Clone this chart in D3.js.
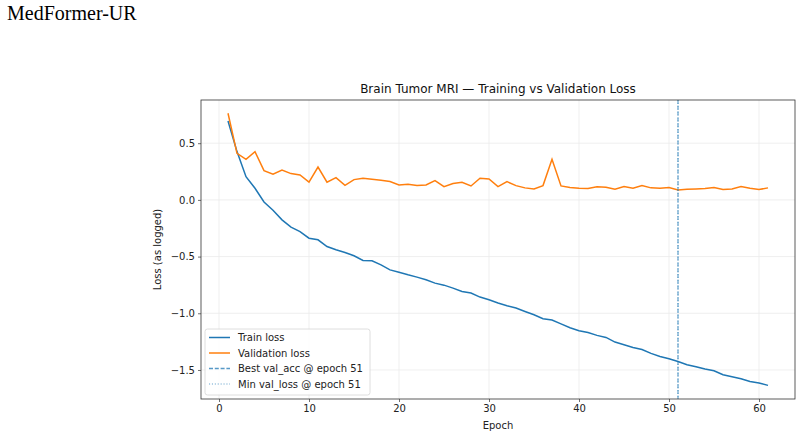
<!DOCTYPE html>
<html>
<head>
<meta charset="utf-8">
<script src="https://cdn.jsdelivr.net/npm/d3@7"></script>
<style>
  body { margin: 0; background: #fff; }
  #page-title { position: absolute; left: 7px; top: 2px; margin: 0; font-family: "Liberation Serif", "Times New Roman", serif; font-size: 20px; font-weight: normal; color: #000; }
  svg { position: absolute; left: 0; top: 0; }
</style>
</head>
<body>
<div id="page-title">MedFormer-UR</div>
<script>
        var w = 803;
        var h = 439;

        // values
        var epochs = d3.range(1, 62);
        var trainLoss = [0.696, 0.426, 0.205, 0.103, -0.018, -0.092, -0.176, -0.24, -0.279, -0.338,
                         -0.352, -0.411, -0.44, -0.464, -0.493, -0.534, -0.537, -0.573, -0.617, -0.638,
                         -0.661, -0.681, -0.705, -0.734, -0.752, -0.778, -0.808, -0.822, -0.857, -0.881,
                         -0.91, -0.934, -0.954, -0.984, -1.013, -1.048, -1.06, -1.093, -1.128, -1.154,
                         -1.17, -1.195, -1.213, -1.254, -1.278, -1.301, -1.319, -1.354, -1.381, -1.401,
                         -1.425, -1.454, -1.471, -1.492, -1.507, -1.542, -1.559, -1.577, -1.601, -1.615,
                         -1.636];
        var valLoss = [0.764, 0.41, 0.358, 0.426, 0.258, 0.226, 0.264, 0.232, 0.22, 0.156,
                       0.29, 0.156, 0.197, 0.129, 0.179, 0.191, 0.183, 0.174, 0.162, 0.132,
                       0.138, 0.126, 0.132, 0.17, 0.117, 0.144, 0.156, 0.123, 0.191, 0.185,
                       0.117, 0.161, 0.126, 0.106, 0.097, 0.126, 0.358, 0.123, 0.109, 0.103,
                       0.1, 0.115, 0.112, 0.094, 0.117, 0.103, 0.126, 0.106, 0.103, 0.109,
                       0.088, 0.094, 0.097, 0.1, 0.109, 0.091, 0.097, 0.117, 0.103, 0.091,
                       0.106];
        var bestEpoch = 51;
        var minValEpoch = 51;
        var xTicks = [0, 10, 20, 30, 40, 50, 60];
        var yTicks = [0.5, 0.0, -0.5, -1.0, -1.5];

        var margin = {left: 201, right: 8, top: 100, bottom: 40};

        var xScale = d3.scaleLinear()
                    .domain([-2, 64])
                    .range([margin.left, w - margin.right]);

        var yScale = d3.scaleLinear()
                    .domain([-1.756, 0.881])
                    .range([h - margin.bottom, margin.top]);

        var svg = d3.select("body").append("svg").attr("width", w).attr("height", h)
                    .attr("font-family", "DejaVu Sans, sans-serif");

        //Grid
        svg.append("g").selectAll("line")
            .data(xTicks).enter()
            .append("line")
            .attr("x1", d => xScale(d)).attr("x2", d => xScale(d))
            .attr("y1", margin.top).attr("y2", h - margin.bottom)
            .attr("stroke", "#ebebeb").attr("stroke-width", 0.8);
        svg.append("g").selectAll("line")
            .data(yTicks).enter()
            .append("line")
            .attr("x1", margin.left).attr("x2", w - margin.right)
            .attr("y1", d => yScale(d)).attr("y2", d => yScale(d))
            .attr("stroke", "#ebebeb").attr("stroke-width", 0.8);

        //Axes
        var fmt = d => d3.format(".1f")(d).replace("-", "\u2212");
        var xAxis = svg.append("g")
            .attr("transform", "translate(0," + (h - margin.bottom) + ")")
            .call(d3.axisBottom(xScale).tickValues(xTicks).tickSize(3).tickPadding(3));
        var yAxis = svg.append("g")
            .attr("transform", "translate(" + margin.left + ",0)")
            .call(d3.axisLeft(yScale).tickValues(yTicks).tickFormat(fmt).tickSize(3).tickPadding(3));
        [xAxis, yAxis].forEach(g => {
            g.select(".domain").remove();
            g.selectAll("line").attr("stroke", "#333").attr("stroke-width", 0.7);
            g.selectAll("text").attr("font-family", "DejaVu Sans, sans-serif")
                .attr("font-size", "10px").attr("fill", "#222");
        });

        //Lines
        var line = data => d3.line()
            .x((d, i) => xScale(epochs[i]))
            .y(d => yScale(d))(data);

        svg.append("path").attr("d", line(trainLoss))
            .attr("fill", "none").attr("stroke", "#1f77b4").attr("stroke-width", 1.5);
        svg.append("path").attr("d", line(valLoss))
            .attr("fill", "none").attr("stroke", "#ff7f0e").attr("stroke-width", 1.5);

        //Best / min markers
        svg.append("line")
            .attr("x1", xScale(bestEpoch)).attr("x2", xScale(bestEpoch))
            .attr("y1", margin.top).attr("y2", h - margin.bottom)
            .attr("stroke", "#1f77b4").attr("stroke-opacity", 0.75)
            .attr("stroke-width", 1.1).attr("stroke-dasharray", "4,1.8");
        svg.append("line")
            .attr("x1", xScale(minValEpoch)).attr("x2", xScale(minValEpoch))
            .attr("y1", margin.top).attr("y2", h - margin.bottom)
            .attr("stroke", "#1f77b4").attr("stroke-opacity", 0.45)
            .attr("stroke-width", 1.1).attr("stroke-dasharray", "1.1,1.8");

        //Frame
        svg.append("rect")
            .attr("x", margin.left).attr("y", margin.top)
            .attr("width", w - margin.right - margin.left)
            .attr("height", h - margin.bottom - margin.top)
            .attr("fill", "none").attr("stroke", "#333").attr("stroke-width", 0.8);

        //Titles
        svg.append("text")
            .text("Brain Tumor MRI \u2014 Training vs Validation Loss")
            .attr("x", (margin.left + w - margin.right) / 2).attr("y", 93)
            .attr("text-anchor", "middle").attr("font-size", "12px").attr("fill", "#111");
        svg.append("text")
            .text("Epoch")
            .attr("x", (margin.left + w - margin.right) / 2).attr("y", 429)
            .attr("text-anchor", "middle").attr("font-size", "10px").attr("fill", "#222");
        svg.append("text")
            .text("Loss (as logged)")
            .attr("transform", "translate(161," + (margin.top + h - margin.bottom) / 2 + ") rotate(-90)")
            .attr("text-anchor", "middle").attr("font-size", "10px").attr("fill", "#222");

        //Legend
        var legendItems = [
            {label: "Train loss", color: "#1f77b4", op: 1, dash: null},
            {label: "Validation loss", color: "#ff7f0e", op: 1, dash: null},
            {label: "Best val_acc @ epoch " + bestEpoch, color: "#1f77b4", op: 0.75, dash: "4,1.8"},
            {label: "Min val_loss @ epoch " + minValEpoch, color: "#1f77b4", op: 0.45, dash: "1.1,1.8"}
        ];
        var legend = svg.append("g").attr("transform", "translate(205,329)");
        legend.append("rect")
            .attr("width", 165).attr("height", 66).attr("rx", 2.5)
            .attr("fill", "#fff").attr("fill-opacity", 0.8)
            .attr("stroke", "#d6d6d6").attr("stroke-width", 0.8);
        var rows = legend.selectAll("g.row")
            .data(legendItems).enter()
            .append("g")
            .attr("transform", (d, i) => "translate(0," + (8.5 + i * 15.5) + ")");
        rows.append("line")
            .attr("x1", 4).attr("x2", 25)
            .attr("stroke", d => d.color).attr("stroke-opacity", d => d.op)
            .attr("stroke-width", 1.5)
            .attr("stroke-dasharray", d => d.dash);
        rows.append("text")
            .text(d => d.label)
            .attr("x", 33).attr("y", 3.5)
            .attr("font-size", "10px").attr("fill", "#222");
</script>
</body>
</html>
